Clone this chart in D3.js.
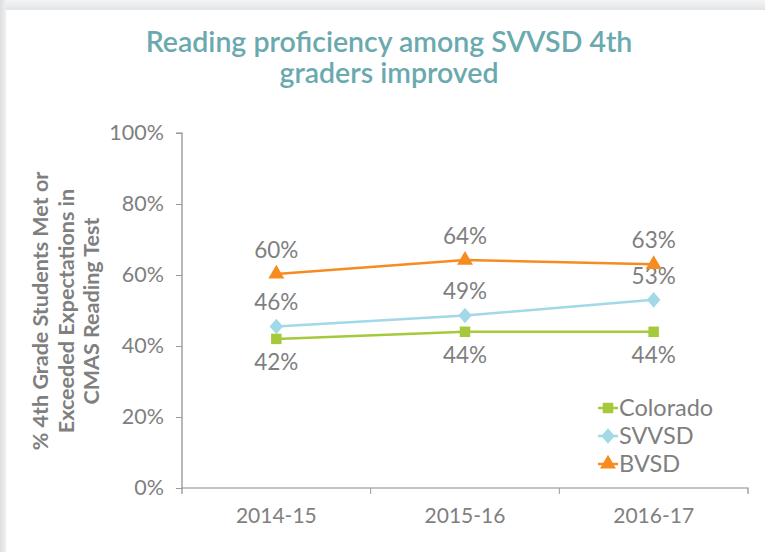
<!DOCTYPE html>
<html>
<head>
<meta charset="utf-8">
<script src="https://cdn.jsdelivr.net/npm/d3@7"></script>
<style>
  html, body { margin: 0; padding: 0; background: #e6e7e9; }
  svg { display: block; font-family: Lato, "Open Sans", sans-serif; }
</style>
</head>
<body>
<svg id="chart" width="765" height="552"></svg>
<script>
const years = ['2014-15', '2015-16', '2016-17'];
const colorado = [42, 44, 44];
const svvsd = [45.5, 48.6, 53];
const bvsd = [60.3, 64.2, 63];
const yTicks = [0, 20, 40, 60, 80, 100];

const series = [
  { name: 'Colorado', values: colorado, color: '#a5c93a', shape: d3.symbolSquare, size: 110, sx: 1, labelPos: 'below' },
  { name: 'SVVSD', values: svvsd, color: '#a2d9e7', shape: d3.symbolDiamond, size: 70, sx: 1.5, labelPos: 'above' },
  { name: 'BVSD', values: bvsd, color: '#f68b1f', shape: d3.symbolTriangle, size: 110, sx: 1, labelPos: 'above' },
];
const labels = { Colorado: ['42%', '44%', '44%'], SVVSD: ['46%', '49%', '53%'], BVSD: ['60%', '64%', '63%'] };

const svg = d3.select('#chart');
const grey = '#7f7f7f';

// card with soft shadow edge
const defs = svg.append('defs');
const gl = defs.append('linearGradient').attr('id', 'gl').attr('x1', 0).attr('x2', 1);
gl.append('stop').attr('offset', 0).attr('stop-color', '#dcdee1');
gl.append('stop').attr('offset', 1).attr('stop-color', '#eef0f1');
const gt = defs.append('linearGradient').attr('id', 'gt').attr('x1', 0).attr('x2', 0).attr('y1', 0).attr('y2', 1);
gt.append('stop').attr('offset', 0).attr('stop-color', '#f4f5f6');
gt.append('stop').attr('offset', 1).attr('stop-color', '#e2e4e6');
svg.append('rect').attr('width', 765).attr('height', 552).attr('fill', '#fff');
svg.append('rect').attr('x', 0).attr('y', 0).attr('width', 765).attr('height', 10).attr('fill', 'url(#gt)');
svg.append('rect').attr('x', 0).attr('y', 0).attr('width', 6).attr('height', 552).attr('fill', 'url(#gl)');

// title, two lines
['Reading proficiency among SVVSD 4th', 'graders improved'].forEach((t, i) => {
  svg.append('text').attr('x', 389).attr('y', 52 + i * 31).attr('text-anchor', 'middle')
    .attr('fill', '#6aa9ae').style('font-size', '28.5px').style('font-weight', 600).text(t);
});

const margin = { left: 182, top: 133, right: 748, bottom: 488 };
const x = d3.scaleBand().domain(years).range([margin.left, margin.right]);
const y = d3.scaleLinear().domain([0, 100]).range([margin.bottom, margin.top]);
const cx = d => x(d) + x.bandwidth() / 2;

// y axis
const ya = svg.append('g').attr('transform', `translate(${margin.left},0)`)
  .call(d3.axisLeft(y).tickValues(yTicks).tickSize(6).tickPadding(12).tickFormat(d => d + '%'));
ya.select('.domain').attr('d', `M-6,${margin.top}H0V${margin.bottom + 6}`);
ya.selectAll('line').attr('stroke', '#9a9a9a');
ya.selectAll('text').attr('fill', grey).style('font-size', '21.5px').style('font-family', 'Lato, sans-serif');

// x axis
const xa = svg.append('g').attr('transform', `translate(0,${margin.bottom})`)
  .call(d3.axisBottom(x).tickSize(0).tickPadding(20));
xa.select('.domain').attr('d', `M${margin.left},0H${margin.right}V6`);
xa.selectAll('text').attr('fill', grey).style('font-size', '21px').style('font-family', 'Lato, sans-serif');
xa.selectAll('.sep').data(years.slice(1)).enter().append('line').attr('class', 'sep')
  .attr('x1', d => x(d)).attr('x2', d => x(d)).attr('y1', 0).attr('y2', 6).attr('stroke', '#9a9a9a');
svg.selectAll('.domain').attr('stroke', '#8a8a8a').attr('stroke-width', 1.2).attr('fill', 'none');

// y-axis title
const yt = svg.append('text').attr('transform', 'translate(0,311) rotate(-90)')
  .attr('text-anchor', 'middle').attr('fill', grey).style('font-size', '21.5px').style('font-weight', 700);
['% 4th Grade Students Met or', 'Exceeded Expectations in', 'CMAS Reading Test'].forEach((t, i) => {
  yt.append('tspan').attr('x', 0).attr('y', 48 + i * 25.5).text(t);
});

// lines, markers, labels
const line = d3.line().x((d, i) => cx(years[i])).y(d => y(d));
series.forEach(s => {
  svg.append('path').datum(s.values).attr('fill', 'none').attr('stroke', s.color)
    .attr('stroke-width', 2.5).attr('d', line);
  svg.selectAll(null).data(s.values).enter().append('path')
    .attr('transform', (d, i) => `translate(${cx(years[i])},${y(d)}) scale(${s.sx},1)`)
    .attr('d', d3.symbol().type(s.shape).size(s.size)).attr('fill', s.color);
  svg.selectAll(null).data(s.values).enter().append('text')
    .attr('x', (d, i) => cx(years[i]))
    .attr('y', d => s.labelPos === 'above' ? y(d) - 16 : y(d) + 31)
    .attr('text-anchor', 'middle').attr('fill', grey).style('font-size', '22.5px')
    .text((d, i) => labels[s.name][i]);
});

// legend
const lg = svg.append('g').attr('transform', 'translate(598,408)');
series.forEach((s, i) => {
  const r = lg.append('g').attr('transform', `translate(0,${i * 28})`);
  r.append('line').attr('x1', 0).attr('x2', 20).attr('stroke', s.color).attr('stroke-width', 2.5);
  r.append('path').attr('transform', `translate(10,0) scale(${s.sx},1)`)
    .attr('d', d3.symbol().type(s.shape).size(s.size)).attr('fill', s.color);
  r.append('text').attr('x', 21).attr('y', 8).attr('fill', grey).style('font-size', '23.5px').text(s.name);
});
</script>
</body>
</html>
